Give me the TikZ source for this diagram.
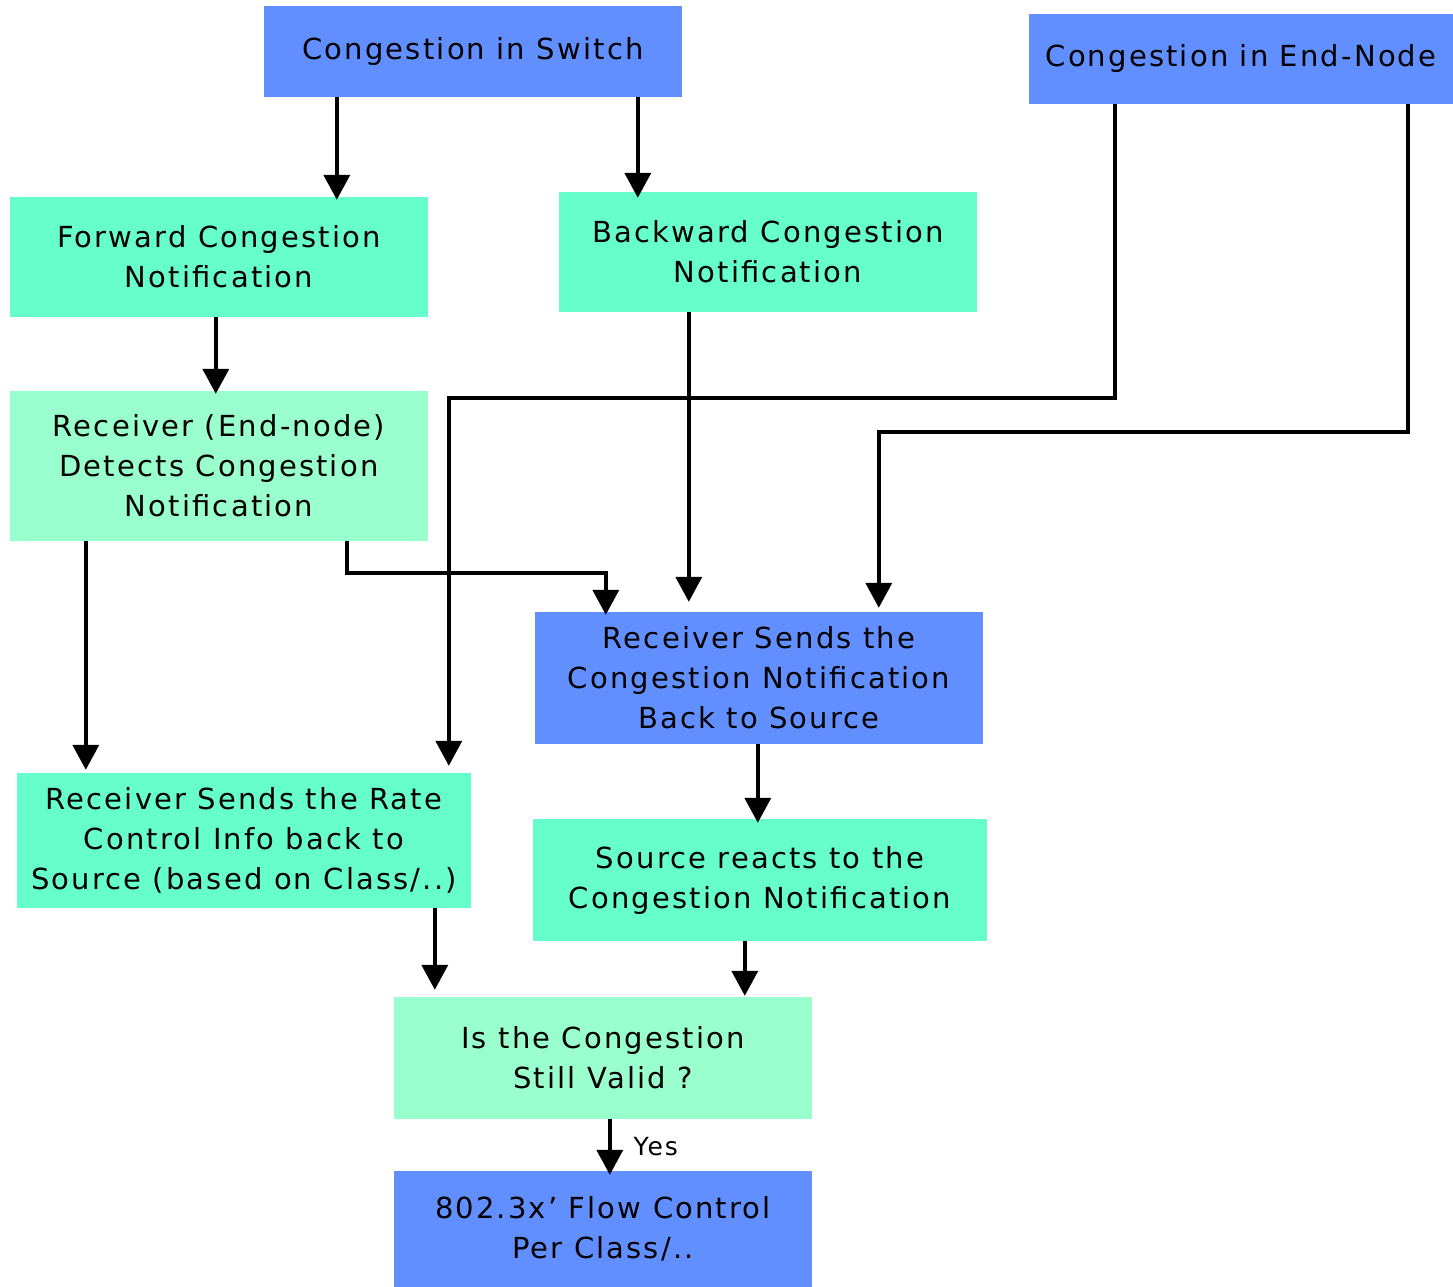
\documentclass[tikz,border=0pt]{standalone}
\usepackage{fontspec}
\setmainfont{DejaVu Sans}[LetterSpace=7.5]
\usetikzlibrary{arrows.meta}
\definecolor{bluebox}{RGB}{97,143,255}
\definecolor{greenbox}{RGB}{102,255,204}
\definecolor{lightbox}{RGB}{153,255,204}
\begin{document}
\begin{tikzpicture}[x=1pt,y=-1pt,
  box/.style={rectangle, inner sep=0pt, align=center, font=\fontsize{29}{40}\selectfont},
  conn/.style={line width=3.8pt, -{Triangle[width=26pt,length=25pt]}},
  lbl/.style={inner sep=0pt, font=\fontsize{25}{28}\selectfont}]
\useasboundingbox (0,0) rectangle (1453,1287);

\node[box, fill=bluebox, minimum width=418pt, minimum height=91pt] (sw) at (473,51.5) {Congestion in Switch};
\node[box, fill=bluebox, minimum width=424pt, minimum height=90pt] (en) at (1241,59) {Congestion in End-Node};
\node[box, fill=greenbox, minimum width=418pt, minimum height=120pt] (fcn) at (219,257) {Forward Congestion\\Notification};
\node[box, fill=greenbox, minimum width=418pt, minimum height=120pt] (bcn) at (768,252) {Backward Congestion\\Notification};
\node[box, fill=lightbox, minimum width=418pt, minimum height=150pt] (det) at (219,466) {Receiver (End-node)\\Detects Congestion\\Notification};
\node[box, fill=bluebox, minimum width=448pt, minimum height=132pt] (rsb) at (759,678) {Receiver Sends the\\Congestion Notification\\Back to Source};
\node[box, fill=greenbox, minimum width=454pt, minimum height=135pt] (rate) at (244,840.5) {Receiver Sends the Rate\\Control Info back to\\Source (based on Class/..)};
\node[box, fill=greenbox, minimum width=454pt, minimum height=122pt] (src) at (760,880) {Source reacts to the\\Congestion Notification};
\node[box, fill=lightbox, minimum width=418pt, minimum height=122pt] (valid) at (603,1058) {Is the Congestion\\Still Valid ?};
\node[box, fill=bluebox, minimum width=418pt, minimum height=116pt] (fc) at (603,1229) {802.3x\textquoteright\ Flow Control\\Per Class/..};

% connectors
\draw[conn] ([xshift=73pt]sw.south west) -- ([xshift=327pt,yshift=-3pt]fcn.north west);
\draw[conn] ([xshift=374pt]sw.south west) -- ([xshift=79pt,yshift=-6pt]bcn.north west);
\draw[conn] ([xshift=206pt]fcn.south west) -- ([xshift=206pt,yshift=-3pt]det.north west);
\draw[conn] ([xshift=130pt]bcn.south west) -- ([xshift=154pt,yshift=10pt]rsb.north west);
\draw[conn] ([xshift=86pt]en.south west) -- ++(0,294) -| ([xshift=432pt,yshift=7pt]rate.north west);
\draw[conn] ([xshift=379pt]en.south west) -- ++(0,328) -| ([xshift=344pt,yshift=4pt]rsb.north west);
\draw[conn] ([xshift=337pt]det.south west) -- ++(0,32) -| ([xshift=71pt,yshift=-3pt]rsb.north west);
\draw[conn] ([xshift=76pt]det.south west) -- ([xshift=69pt,yshift=3pt]rate.north west);
\draw[conn] ([xshift=223pt]rsb.south west) -- ([xshift=225pt,yshift=-4pt]src.north west);
\draw[conn] ([xshift=418pt]rate.south west) -- ([xshift=41pt,yshift=7pt]valid.north west);
\draw[conn] ([xshift=212pt]src.south west) -- ([xshift=351pt,yshift=1pt]valid.north west);
\draw[conn] ([xshift=216pt]valid.south west) -- node[lbl, right=22pt] (yes) {Yes} ([xshift=216pt,yshift=-4pt]fc.north west);
\end{tikzpicture}
\end{document}
